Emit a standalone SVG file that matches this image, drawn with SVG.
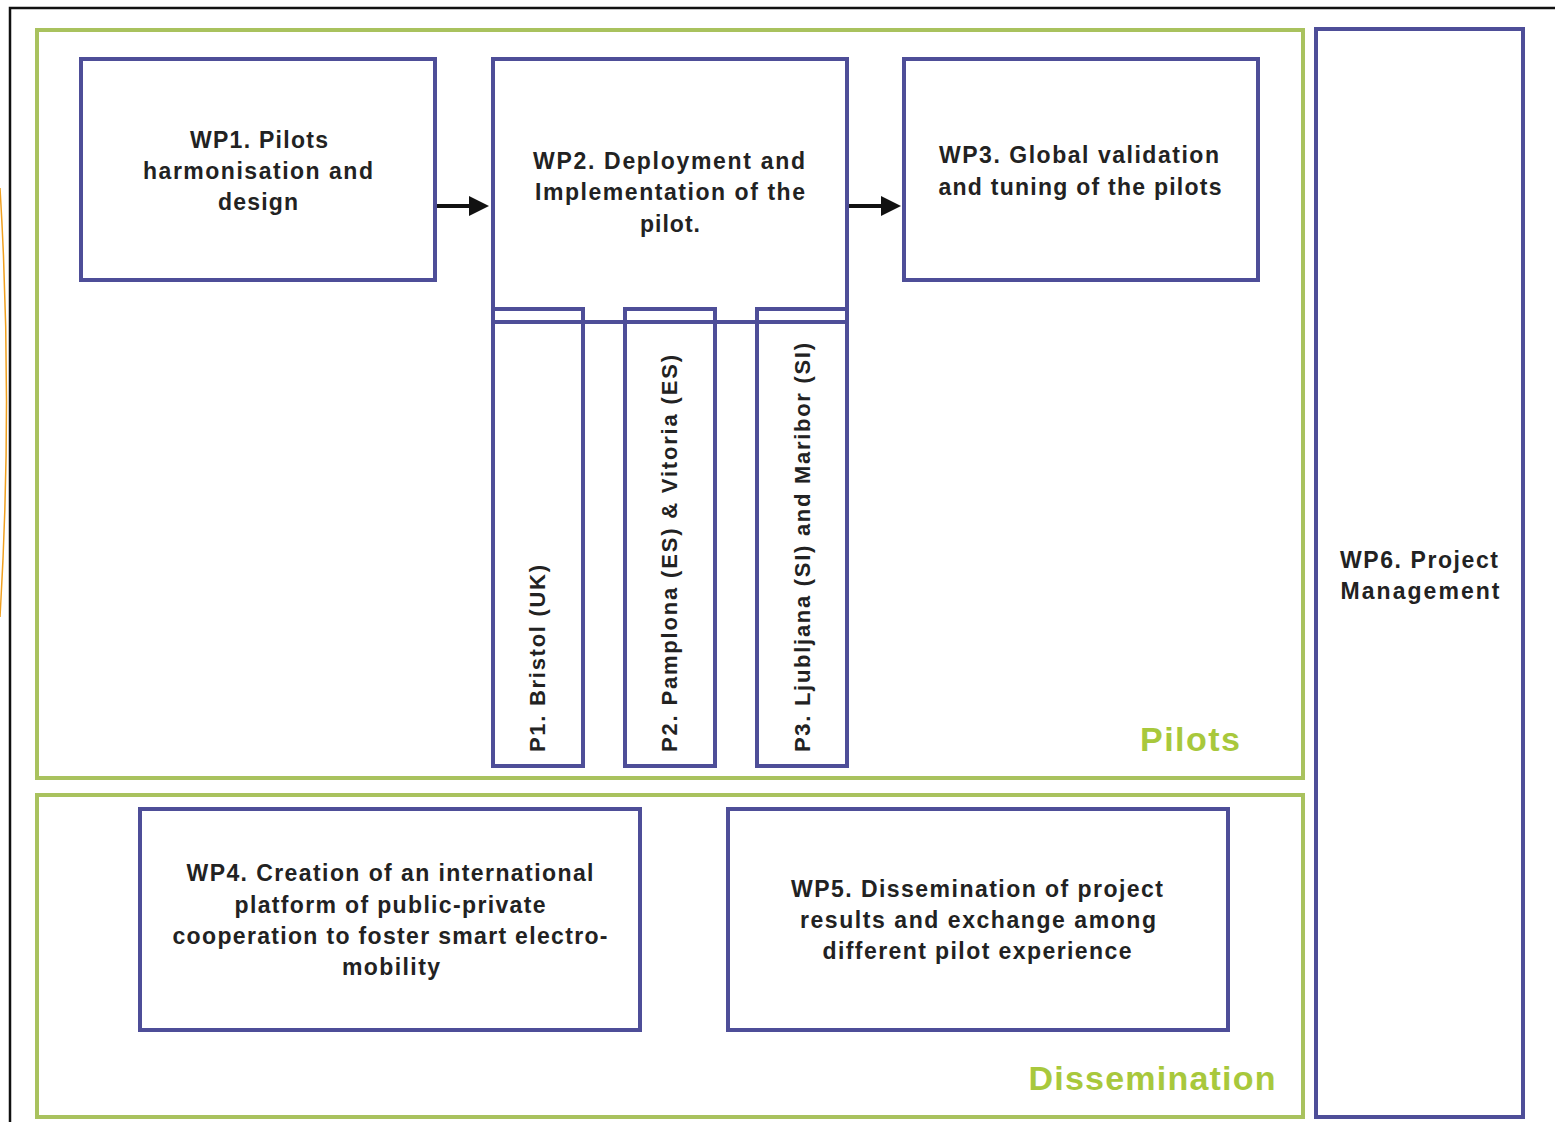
<svg xmlns="http://www.w3.org/2000/svg" width="1555" height="1122" viewBox="0 0 1555 1122">
<style>
.grp{fill:none;stroke:#a9c25e;stroke-width:4}
.wp{fill:none;stroke:#4e4e98;stroke-width:4}
.t{font-family:"Liberation Sans",Arial,sans-serif;font-weight:bold;font-size:23px;fill:#222;text-anchor:middle}
.r{font-family:"Liberation Sans",Arial,sans-serif;font-weight:bold;font-size:22px;fill:#222}
.g{font-family:"Liberation Sans",Arial,sans-serif;font-weight:bold;font-size:34px;fill:#a8c83c;text-anchor:middle}
</style>
<defs>
<marker id="ah" markerWidth="5" markerHeight="5" refX="4" refY="2.5" orient="auto" markerUnits="strokeWidth">
<path d="M0,0 L5,2.5 L0,5 Z" fill="#111"/>
</marker>
</defs>
<rect width="1555" height="1122" fill="#fff"/>
<path d="M10,1122 V8 H1555" fill="none" stroke="#111" stroke-width="2.5"/>
<path d="M0,188 Q13,400 0,617" fill="none" stroke="#f0a020" stroke-width="1.5"/>

<g id="pilots">
<rect class="grp" x="37" y="30" width="1266" height="748"/>
<text class="g" x="1190" y="751" textLength="100" lengthAdjust="spacing">Pilots</text>
</g>
<g id="dissemination">
<rect class="grp" x="37" y="795" width="1266" height="322"/>
<text class="g" x="1152" y="1090" textLength="247" lengthAdjust="spacing">Dissemination</text>
</g>

<g id="wp1">
<rect class="wp" x="81" y="59" width="354" height="221"/>
<text class="t" x="259" y="148" textLength="138" lengthAdjust="spacing">WP1. Pilots</text>
<text class="t" x="258" y="179" textLength="230" lengthAdjust="spacing">harmonisation and</text>
<text class="t" x="258" y="210" textLength="80" lengthAdjust="spacing">design</text>
</g>
<g id="wp2">
<rect class="wp" x="493" y="59" width="354" height="263"/>
<text class="t" x="669" y="169" textLength="272" lengthAdjust="spacing">WP2. Deployment and</text>
<text class="t" x="670" y="200" textLength="270" lengthAdjust="spacing">Implementation of the</text>
<text class="t" x="670" y="232" textLength="60" lengthAdjust="spacing">pilot.</text>
</g>
<g id="wp3">
<rect class="wp" x="904" y="59" width="354" height="221"/>
<text class="t" x="1079" y="163" textLength="280" lengthAdjust="spacing">WP3. Global validation</text>
<text class="t" x="1080" y="195" textLength="283" lengthAdjust="spacing">and tuning of the pilots</text>
</g>
<g id="p1">
<rect class="wp" x="493" y="309" width="90" height="457"/>
<text class="r" transform="translate(545,752) rotate(-90)" textLength="187" lengthAdjust="spacing">P1. Bristol (UK)</text>
</g>
<g id="p2">
<rect class="wp" x="625" y="309" width="90" height="457"/>
<text class="r" transform="translate(677,752) rotate(-90)" textLength="397" lengthAdjust="spacing">P2. Pamplona (ES) &amp; Vitoria (ES)</text>
</g>
<g id="p3">
<rect class="wp" x="757" y="309" width="90" height="457"/>
<text class="r" transform="translate(810,752) rotate(-90)" textLength="409" lengthAdjust="spacing">P3. Ljubljana (SI) and Maribor (SI)</text>
</g>
<g id="wp4">
<rect class="wp" x="140" y="809" width="500" height="221"/>
<text class="t" x="390" y="881" textLength="407" lengthAdjust="spacing">WP4. Creation of an international</text>
<text class="t" x="390" y="913" textLength="311" lengthAdjust="spacing">platform of public-private</text>
<text class="t" x="390" y="944" textLength="435" lengthAdjust="spacing">cooperation to foster smart electro-</text>
<text class="t" x="391" y="975" textLength="98" lengthAdjust="spacing">mobility</text>
</g>
<g id="wp5">
<rect class="wp" x="728" y="809" width="500" height="221"/>
<text class="t" x="977" y="897" textLength="372" lengthAdjust="spacing">WP5. Dissemination of project</text>
<text class="t" x="978" y="928" textLength="356" lengthAdjust="spacing">results and exchange among</text>
<text class="t" x="977" y="959" textLength="309" lengthAdjust="spacing">different pilot experience</text>
</g>
<g id="wp6">
<rect class="wp" x="1316" y="29" width="207" height="1088"/>
<text class="t" x="1419" y="568" textLength="158" lengthAdjust="spacing">WP6. Project</text>
<text class="t" x="1420" y="599" textLength="159" lengthAdjust="spacing">Management</text>
</g>

<g id="connectors" stroke="#111" stroke-width="4" fill="none">
<line x1="437" y1="206" x2="485" y2="206" marker-end="url(#ah)"/>
<line x1="849" y1="206" x2="897" y2="206" marker-end="url(#ah)"/>
</g>
</svg>
